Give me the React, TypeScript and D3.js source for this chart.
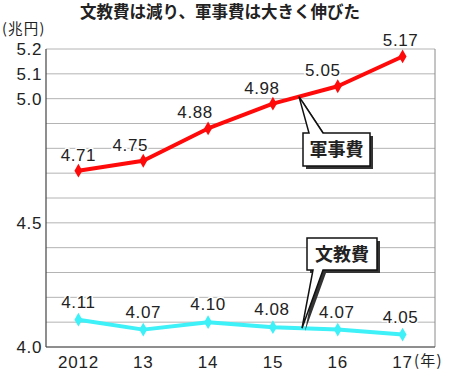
import React from "react";
import * as d3 from "d3";

const years = ["2012", "13", "14", "15", "16", "17"];
const military = [4.71, 4.75, 4.88, 4.98, 5.05, 5.17];
const education = [4.11, 4.07, 4.10, 4.08, 4.07, 4.05];
const yTicks = [4.0, 4.5, 5.0, 5.1, 5.2];
const gridValues = d3.range(0, 13).map((i) => 4.0 + i * 0.1);
const militaryLabelDx = [0, -13, -13, -11, -15, -2];
const educationLabelDx = [0, 0, 0, -1, -1, -2];

const W = 450;
const H = 372;
const left = 46;
const right = 435;
const top = 49;
const bottom = 347;

const LATIN = "'Liberation Sans', Arial, sans-serif";
const CJK = "'Noto Sans CJK JP', 'Noto Sans', sans-serif";

export default function App() {
  const x = d3.scalePoint<string>().domain(years).range([left, right]).padding(0.5);
  const y = d3.scaleLinear().domain([4.0, 5.2]).range([bottom, top]);
  const line = d3
    .line<number>()
    .x((_, i) => x(years[i]) as number)
    .y((d) => y(d));
  const diamond = d3.symbol().type(d3.symbolDiamond).size(55)();

  const interpAt = (vals: number[], px: number) => {
    for (let i = 0; i < vals.length - 1; i++) {
      const x0 = x(years[i]) as number;
      const x1 = x(years[i + 1]) as number;
      if (px >= x0 && px <= x1) {
        const t = (px - x0) / (x1 - x0);
        return y(vals[i] + (vals[i + 1] - vals[i]) * t);
      }
    }
    return y(vals[0]);
  };

  const callout = (
    bx: number,
    by: number,
    bw: number,
    bh: number,
    t0: number,
    t1: number,
    tipX: number,
    tipY: number,
    up: boolean
  ) => {
    if (up) {
      return `M${bx},${by} L${t0},${by} L${tipX},${tipY} L${t1},${by} L${bx + bw},${by} L${bx + bw},${by + bh} L${bx},${by + bh} Z`;
    }
    return `M${bx},${by} L${bx + bw},${by} L${bx + bw},${by + bh} L${t1},${by + bh} L${tipX},${tipY} L${t0},${by + bh} L${bx},${by + bh} Z`;
  };

  const milTipX = 299;
  const milTipY = interpAt(military, milTipX);
  const eduTipX = 302;
  const eduTipY = interpAt(education, eduTipX);

  const labelStyle: React.CSSProperties = {
    paintOrder: "stroke",
  };

  return (
    <svg width={W} height={H} style={{ position: "absolute", left: 0, top: 0, background: "#fff" }}>
      <rect width={W} height={H} fill="#fff" />
      <text x={220} y={18} textAnchor="middle" fontFamily={CJK} fontWeight={700} fontSize={16.5} fill="#222">
        文教費は減り、軍事費は大きく伸びた
      </text>
      <text x={2} y={34} fontFamily={CJK} fontSize={14.5} letterSpacing={1.2} fill="#222">
        (兆円)
      </text>

      {gridValues.map((v, i) => (
        <line key={i} x1={left} x2={right} y1={y(v)} y2={y(v)} stroke="#b4b4b4" strokeWidth={1} />
      ))}
      <line x1={right} x2={right} y1={top} y2={bottom} stroke="#8a8a8a" strokeWidth={1} />
      <line x1={left} x2={left} y1={top} y2={bottom} stroke="#444" strokeWidth={1.2} />
      <line x1={left} x2={right} y1={bottom} y2={bottom} stroke="#444" strokeWidth={1.2} />

      {yTicks.map((v) => (
        <text key={v} x={42} y={y(v) + 6} textAnchor="end" fontFamily={LATIN} fontSize={17} letterSpacing={0.6} fill="#222">
          {v.toFixed(1)}
        </text>
      ))}
      {years.map((yr) => (
        <text key={yr} x={x(yr)} y={368} textAnchor="middle" fontFamily={LATIN} fontSize={17} letterSpacing={0.8} fill="#222">
          {yr}
        </text>
      ))}
      <text x={414} y={366} fontFamily={CJK} fontSize={15} letterSpacing={1.2} fill="#222">
        (年)
      </text>

      <path d={line(military) || ""} fill="none" stroke="#ff0a0a" strokeWidth={4} strokeLinejoin="round" />
      {military.map((v, i) => (
        <path key={i} d={diamond} transform={`translate(${x(years[i])},${y(v)})`} fill="#ff0a0a" />
      ))}
      <path d={line(education) || ""} fill="none" stroke="#3ef0f8" strokeWidth={4} strokeLinejoin="round" />
      {education.map((v, i) => (
        <path key={i} d={diamond} transform={`translate(${x(years[i])},${y(v)})`} fill="#3ef0f8" />
      ))}

      {military.map((v, i) => (
        <text
          key={i}
          x={(x(years[i]) as number) + militaryLabelDx[i]}
          y={y(v) - 10}
          textAnchor="middle"
          fontFamily={LATIN}
          fontSize={17}
          letterSpacing={0.6}
          fill="#222"
          stroke="#fff"
          strokeWidth={3}
          style={labelStyle}
        >
          {v.toFixed(2)}
        </text>
      ))}
      {education.map((v, i) => (
        <text
          key={i}
          x={(x(years[i]) as number) + educationLabelDx[i]}
          y={y(v) - 12}
          textAnchor="middle"
          fontFamily={LATIN}
          fontSize={17}
          letterSpacing={0.6}
          fill="#222"
          stroke="#fff"
          strokeWidth={3}
          style={labelStyle}
        >
          {v.toFixed(2)}
        </text>
      ))}

      {/* 軍事費 callout */}
      <path d={callout(306, 136, 67, 33, 312, 326, milTipX + 3, milTipY + 3, true)} fill="#333" />
      <path d={callout(303, 133, 67, 33, 309, 323, milTipX, milTipY, true)} fill="#fff" stroke="#111" strokeWidth={1.5} strokeLinejoin="miter" />
      <text x={336.5} y={156} textAnchor="middle" fontFamily={CJK} fontWeight={700} fontSize={18} fill="#222">
        軍事費
      </text>

      {/* 文教費 callout */}
      <path d={callout(310, 241, 70, 32, 316, 326, eduTipX + 3, eduTipY + 3, false)} fill="#333" />
      <path d={callout(307, 238, 70, 32, 313, 323, eduTipX, eduTipY, false)} fill="#fff" stroke="#111" strokeWidth={1.5} strokeLinejoin="miter" />
      <text x={342} y={260.5} textAnchor="middle" fontFamily={CJK} fontWeight={700} fontSize={18} fill="#222">
        文教費
      </text>
    </svg>
  );
}
